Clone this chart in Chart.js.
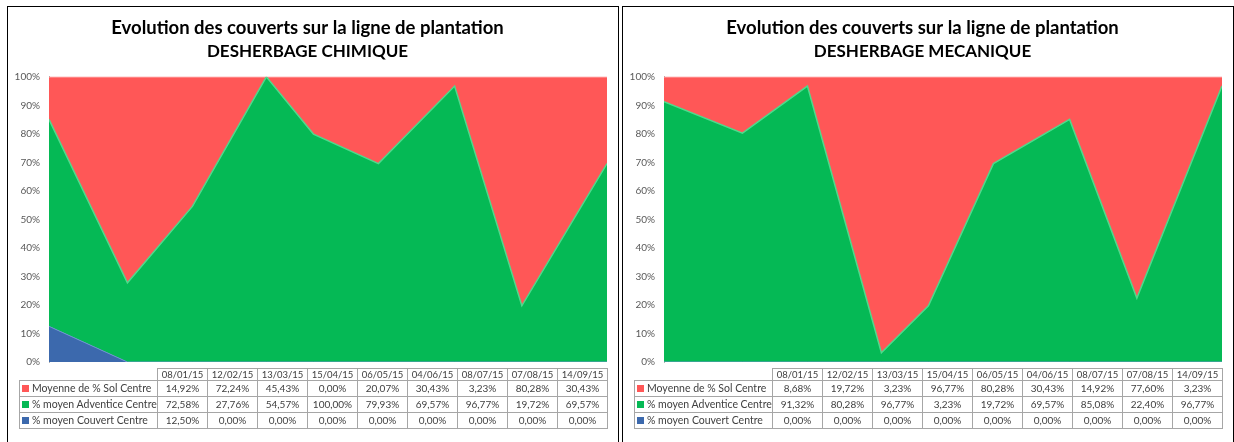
<!DOCTYPE html>
<html>
<head>
<meta charset="utf-8">
<script src="https://cdn.jsdelivr.net/npm/chart.js@4.4.1/dist/chart.umd.min.js"></script>
<style>
  body { margin: 0; background: #fff; width: 1234px; height: 442px; overflow: hidden; position: relative; }
  .panel { position: absolute; top: 6px; width: 610px; height: 440px; border: 1px solid #000; background: #fff; }
  .panel canvas { position: absolute; left: 0; top: 0; }
  .dt { position: absolute; left: 11px; top: 361px; border-collapse: collapse; table-layout: fixed;
        font: 10px Lato, sans-serif; color: #404040; }
  .dt td { border: 1px solid #a6a6a6; text-align: center; padding: 0; white-space: nowrap; overflow: hidden; }
  .dt tr.hd td { height: 11px; line-height: 11px; font-size: 9.5px; }
  .dt tr.rw td { height: 15px; line-height: 15px; }
  .dt td.blank { border-top: none; border-left: none; }
  .dt td.lab { text-align: left; padding-left: 2px; font-size: 10.5px; }
  .key { display: inline-block; width: 7px; height: 7px; margin-right: 3px; vertical-align: 0px; }
</style>
</head>
<body>
<div class="panel" id="p1" style="left:7px"><canvas id="c1" width="610" height="435"></canvas></div>
<div class="panel" id="p2" style="left:622px"><canvas id="c2" width="610" height="435"></canvas></div>
<script>
// dates des relevés
const dates = ['08/01/15', '12/02/15', '13/03/15', '15/04/15', '06/05/15', '04/06/15', '08/07/15', '07/08/15', '14/09/15'];
const yTicks = [0, 10, 20, 30, 40, 50, 60, 70, 80, 90, 100];
const seriesNames = ['Moyenne de % Sol Centre', '% moyen Adventice Centre', '% moyen Couvert Centre'];

// désherbage chimique
const chimSol = [14.92, 72.24, 45.43, 0.00, 20.07, 30.43, 3.23, 80.28, 30.43];
const chimAdventice = [72.58, 27.76, 54.57, 100.00, 79.93, 69.57, 96.77, 19.72, 69.57];
const chimCouvert = [12.50, 0.00, 0.00, 0.00, 0.00, 0.00, 0.00, 0.00, 0.00];

// désherbage mécanique
const mecaSol = [8.68, 19.72, 3.23, 96.77, 80.28, 30.43, 14.92, 77.60, 3.23];
const mecaAdventice = [91.32, 80.28, 96.77, 3.23, 19.72, 69.57, 85.08, 22.40, 96.77];
const mecaCouvert = [0.00, 0.00, 0.00, 0.00, 0.00, 0.00, 0.00, 0.00, 0.00];

const colSol = '#ff5757';
const colAdv = '#05b955';
const colCouv = '#3c69ad';

function dayNum(s) {
  const [d, m, y] = s.split('/').map(Number);
  return Date.UTC(2000 + y, m - 1, d) / 86400000;
}
const xDays = dates.map((s) => dayNum(s) - dayNum(dates[0]));

function pts(values) {
  return values.map((v, i) => ({ x: xDays[i], y: v }));
}

function fmt(v) {
  return v.toFixed(2).replace('.', ',') + '%';
}

function buildTable(panel, rows) {
  const keys = [colSol, colAdv, colCouv];
  let html = '<table class="dt"><colgroup><col style="width:138px">';
  dates.forEach(() => { html += '<col style="width:50px">'; });
  html += '</colgroup><tr class="hd"><td class="blank"></td>';
  dates.forEach((d) => { html += '<td>' + d + '</td>'; });
  html += '</tr>';
  rows.forEach((vals, r) => {
    html += '<tr class="rw"><td class="lab"><span class="key" style="background:' + keys[r] + '"></span>' + seriesNames[r] + '</td>';
    vals.forEach((v) => { html += '<td>' + fmt(v) + '</td>'; });
    html += '</tr>';
  });
  html += '</table>';
  panel.insertAdjacentHTML('beforeend', html);
}

function makeChart(canvasId, subtitle, sol, adv, couv) {
  new Chart(document.getElementById(canvasId), {
    type: 'line',
    data: {
      datasets: [
        { label: seriesNames[2], data: pts(couv), backgroundColor: colCouv, borderColor: '#6d93cf', borderWidth: 1, fill: 'origin' },
        { label: seriesNames[1], data: pts(adv), backgroundColor: colAdv, borderColor: '#4fd98b', borderWidth: 1.5, fill: '-1' },
        { label: seriesNames[0], data: pts(sol), backgroundColor: colSol, borderColor: '#ff9090', borderWidth: 2, fill: '-1' },
      ],
    },
    options: {
      responsive: false,
      animation: false,
      layout: { padding: { left: 0, right: 11, top: 0, bottom: 80 } },
      elements: { point: { radius: 0 }, line: { tension: 0 } },
      scales: {
        x: {
          type: 'linear',
          min: 0,
          max: xDays[xDays.length - 1],
          display: false,
        },
        y: {
          stacked: true,
          min: 0,
          max: 100,
          afterFit: (s) => { s.width = 41; },
          afterBuildTicks: (s) => { s.ticks = yTicks.map((v) => ({ value: v })); },
          grid: { display: true, drawOnChartArea: false, drawTicks: false, color: 'rgba(0,0,0,0)' },
          border: { display: true, color: '#b0b0b0' },
          ticks: {
            padding: 9,
            color: '#595959',
            font: { family: 'Lato', size: 10 },
            callback: (v) => v + '%',
          },
        },
      },
      plugins: {
        legend: { display: false },
        tooltip: { enabled: false },
        title: {
          display: true,
          text: 'Evolution des couverts sur la ligne de plantation',
          color: '#000',
          font: { family: 'Lato', size: 18.5, weight: 'bold', lineHeight: 1.3 },
          padding: { top: 9, bottom: 0 },
        },
        subtitle: {
          display: true,
          text: subtitle,
          color: '#000',
          font: { family: 'Lato', size: 17, weight: 'bold', lineHeight: 1.4 },
          padding: { top: 0, bottom: 13 },
        },
      },
    },
  });
}

makeChart('c1', 'DESHERBAGE CHIMIQUE', chimSol, chimAdventice, chimCouvert);
makeChart('c2', 'DESHERBAGE MECANIQUE', mecaSol, mecaAdventice, mecaCouvert);
buildTable(document.getElementById('p1'), [chimSol, chimAdventice, chimCouvert]);
buildTable(document.getElementById('p2'), [mecaSol, mecaAdventice, mecaCouvert]);
</script>
</body>
</html>
